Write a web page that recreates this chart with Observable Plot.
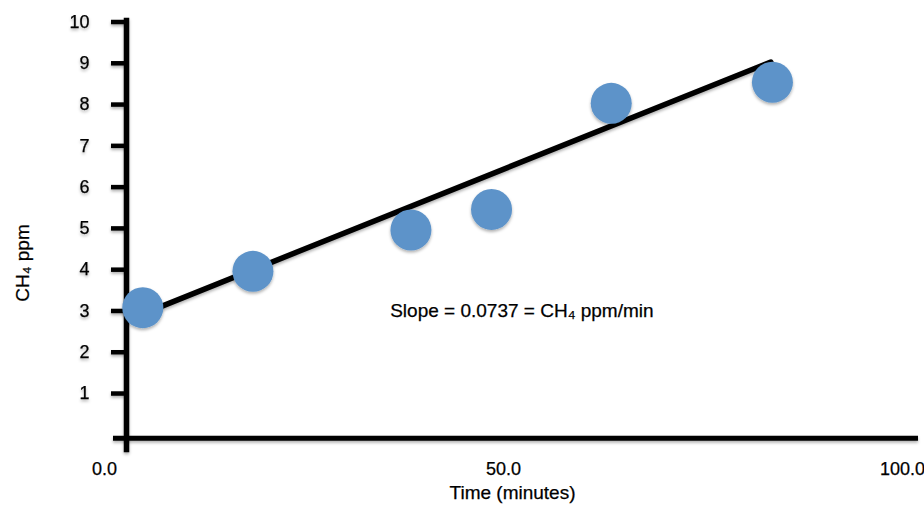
<!DOCTYPE html>
<html>
<head>
<meta charset="utf-8">
<script src="https://cdn.jsdelivr.net/npm/d3@7"></script>
<script src="https://cdn.jsdelivr.net/npm/@observablehq/plot@0.6"></script>
<style>
  html, body { margin: 0; padding: 0; background: #fff; }
  #chart svg { display: block; }
  #chart svg text { stroke: #000; stroke-width: 0.25px; }
</style>
</head>
<body>
<div id="chart"></div>
<script>
// Measured samples
const times = [4.8, 18.6, 38.4, 48.5, 63.5, 83.7];        // minutes
const ch4 = [3.08, 3.96, 4.96, 5.46, 8.03, 8.54];         // ppm
// Trend line endpoints as drawn
const trendTimes = [4.8, 83.5];
const trendCH4 = [2.93, 9.03];
// Axis ticks
const xTicks = [0, 50, 100];
const yTicks = [1, 2, 3, 4, 5, 6, 7, 8, 9, 10];
// Labels
const xTitle = "Time (minutes)";
const yTitle = "CH₄ ppm";
const annotation = "Slope = 0.0737 = CH₄ ppm/min";
const annotationAt = {time: 35.8, ch4: 2.99};

const points = times.map((t, i) => ({t, v: ch4[i]}));
const trend = trendTimes.map((t, i) => ({t, v: trendCH4[i]}));

const font = "'Liberation Sans', Arial, Helvetica, sans-serif";

const chart = Plot.plot({
  width: 924,
  height: 508,
  marginLeft: 126,
  marginRight: 6,
  marginTop: 20,
  marginBottom: 59,
  style: {fontFamily: font, fontSize: "18px", color: "#000", background: "#fff"},
  x: {domain: [0, 100], range: [104, 902]},
  y: {domain: [0, 10], range: [434.3, 21.5]},
  marks: [
    Plot.frame({anchor: "left", stroke: "#000", strokeWidth: 5.5, className: "shadowed"}),
    Plot.ruleY([0], {dy: 3.5, insetLeft: -13, stroke: "#000", strokeWidth: 5, className: "shadowed"}),
    Plot.axisY({ticks: yTicks, tickSize: 15, tickPadding: 22, strokeWidth: 4.5, tickFormat: d => String(d), fontSize: 18, label: null, className: "shadowed"}),
    Plot.axisX({ticks: xTicks, tickSize: 0, tickPadding: 13, tickFormat: d => d.toFixed(1), fontSize: 18, label: null}),
    Plot.text([xTitle], {frameAnchor: "bottom", dx: -10, dy: 49, fontSize: 19, textAnchor: "middle"}),
    Plot.text([yTitle], {frameAnchor: "left", dx: -104, dy: 28, rotate: -90, fontSize: 19, textAnchor: "middle"}),
    Plot.line(trend, {x: "t", y: "v", stroke: "#000", strokeWidth: 5.5, className: "shadowed"}),
    Plot.dot(points, {x: "t", y: "v", r: 20.5, fill: "#5d93c9", stroke: "none", className: "shadowed"}),
    Plot.text([annotation], {x: () => annotationAt.time, y: () => annotationAt.ch4, textAnchor: "start", fontSize: 19})
  ]
});

// subtle drop shadow like the original (user-space region so straight lines keep their extent)
const svg = d3.select(chart);
const defs = svg.insert("defs", ":first-child");
const f = defs.append("filter").attr("id", "shadow")
  .attr("filterUnits", "userSpaceOnUse")
  .attr("x", 0).attr("y", 0).attr("width", 924).attr("height", 508);
f.append("feDropShadow").attr("dx", 0).attr("dy", 2).attr("stdDeviation", 1.4).attr("flood-color", "#000").attr("flood-opacity", 0.3);
svg.selectAll(".shadowed").attr("filter", "url(#shadow)");
svg.selectAll(".shadowed text").attr("filter", null);

document.getElementById("chart").appendChild(chart);
</script>
</body>
</html>
